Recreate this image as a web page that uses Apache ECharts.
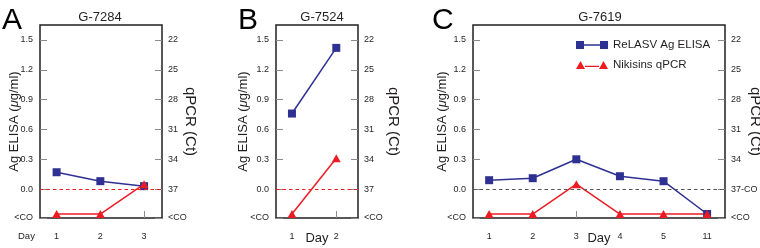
<!DOCTYPE html>
<html>
<head>
<meta charset="utf-8">
<script src="https://cdn.jsdelivr.net/npm/echarts@6/dist/echarts.min.js"></script>
<style>
  html, body { margin: 0; padding: 0; background: #fff; }
  #chart-container { width: 760px; height: 248px; }
</style>
</head>
<body>
<div id="chart-container"></div>
<script>
var dom = document.getElementById("chart-container");
var myChart = echarts.init(dom, null, { renderer: "canvas" });

// data ("<CO" = below cut-off)
var panelLetters = ["A", "B", "C"];
var patientIds = ["G-7284", "G-7524", "G-7619"];
var seriesNames = ["ReLASV Ag ELISA", "Nikisins qPCR"];

var daysA = [1, 2, 3];
var elisaA = [0.17, 0.08, 0.03];
var ctA = ["<CO", "<CO", 36.5];

var daysB = [1, 2];
var elisaB = [0.76, 1.42];
var ctB = ["<CO", 33.9];

var daysC = [1, 2, 3, 4, 5, 11];
var elisaC = [0.09, 0.11, 0.3, 0.13, 0.08, "<CO"];
var ctC = ["<CO", "<CO", 36.5, "<CO", "<CO", "<CO"];

var elisaTicks = [-0.29, 0, 0.3, 0.6, 0.9, 1.2, 1.5];
var elisaTickLabels = ["<CO", "0.0", "0.3", "0.6", "0.9", "1.2", "1.5"];
var ctTicks = [39.9, 37, 34, 31, 28, 25, 22];
var ctTickLabels = ["<CO", "37", "34", "31", "28", "25", "22"];
var ctTickLabelsC = ["<CO", "37-CO", "34", "31", "28", "25", "22"];

var FONT = "'Liberation Sans', Arial, Helvetica, sans-serif";
var INK = "#231f20";
var BLUE = "#2e3192";
var RED = "#ed1c24";
var TICK = "#8a8a8a";
var ELISA_CO = -0.25; // where below-cutoff points sit
var CT_CO = 39.5;

function plotValue(v, co) {
  return v === "<CO" ? co : v;
}

function tickFormatter(values, labels) {
  return function (value) {
    for (var k = 0; k < values.length; k++) {
      if (Math.abs(values[k] - value) < 1e-6) return labels[k];
    }
    return "";
  };
}

var option = {
  animation: false,
  textStyle: { fontFamily: FONT, color: INK },
  title: [],
  grid: [],
  xAxis: [],
  yAxis: [],
  series: [],
  legend: {
    orient: "vertical",
    left: 576,
    top: 39,
    padding: 0,
    itemWidth: 32,
    itemHeight: 8,
    itemGap: 8,
    textStyle: { fontFamily: FONT, fontSize: 11.5, color: INK },
    data: [
      { name: seriesNames[0], icon: "path://M0,0H8V8H0Z M8,3.3H24V4.7H8Z M24,0H32V8H24Z" },
      { name: seriesNames[1], icon: "path://M0,8L4.5,0L9,8Z M9,4.8H23V6.1H9Z M23,8L27.5,0L32,8Z" }
    ]
  }
};

function addPanel(i, days, elisa, ct, ctLabels, layout) {
  var xs = days.map(function (d, k) { return k; });

  option.title.push({
    text: panelLetters[i],
    left: layout.letterX,
    top: 6,
    padding: 0,
    textStyle: { fontFamily: FONT, fontSize: 30, fontWeight: "normal", color: "#000" }
  });
  option.title.push({
    text: patientIds[i],
    left: layout.titleX,
    top: 11,
    padding: 0,
    textAlign: "center",
    textStyle: { fontFamily: FONT, fontSize: 13, fontWeight: "normal", color: INK }
  });

  option.grid.push({
    left: layout.left,
    right: layout.right,
    top: 25,
    bottom: 30,
    outerBoundsMode: "none",
    show: true,
    borderColor: INK,
    borderWidth: 1.5,
    backgroundColor: "transparent"
  });

  option.xAxis.push({
    type: "value",
    gridIndex: i,
    min: layout.xMin,
    max: layout.xMax,
    name: layout.dayName ? "Day" : "",
    nameLocation: "middle",
    nameGap: 14,
    nameMoveOverlap: false,
    nameTextStyle: { fontFamily: FONT, fontSize: 13, color: INK, verticalAlign: "top" },
    splitLine: { show: false },
    axisLine: { show: false, onZero: false },
    axisTick: {
      inside: true,
      length: 7,
      customValues: xs,
      lineStyle: { color: TICK, width: 1 }
    },
    axisLabel: {
      customValues: xs,
      margin: 14,
      fontSize: 9,
      fontFamily: FONT,
      color: INK,
      formatter: function (v) { return String(days[Math.round(v)]); }
    }
  });

  option.yAxis.push({
    type: "value",
    gridIndex: i,
    position: "left",
    min: -0.29,
    max: 1.65,
    name: "{n|Ag ELISA (}{i|\u03bc}{n|g/ml)}",
    nameLocation: "middle",
    nameRotate: 90,
    nameGap: layout.leftGap,
    nameMoveOverlap: false,
    nameTextStyle: {
      rich: {
        n: { fontFamily: FONT, fontSize: 13, color: INK },
        i: { fontFamily: FONT, fontSize: 13, color: INK, fontStyle: "italic" }
      }
    },
    splitLine: { show: false },
    axisLine: { show: false, onZero: false },
    axisTick: {
      inside: true,
      length: 7,
      customValues: elisaTicks,
      lineStyle: { color: TICK, width: 1 }
    },
    axisLabel: {
      customValues: elisaTicks,
      margin: 7,
      fontSize: 9,
      fontFamily: FONT,
      color: INK,
      formatter: tickFormatter(elisaTicks, elisaTickLabels)
    }
  });

  option.yAxis.push({
    type: "value",
    gridIndex: i,
    position: "right",
    inverse: true,
    min: 20.5,
    max: 39.9,
    name: "qPCR (Ct)",
    nameLocation: "middle",
    nameRotate: -90,
    nameGap: layout.rightGap,
    nameMoveOverlap: false,
    nameTextStyle: { fontFamily: FONT, fontSize: 15, color: INK },
    splitLine: { show: false },
    axisLine: { show: false, onZero: false },
    axisTick: {
      inside: true,
      length: 7,
      customValues: ctTicks,
      lineStyle: { color: TICK, width: 1 }
    },
    axisLabel: {
      customValues: ctTicks,
      margin: 6,
      fontSize: 9,
      fontFamily: FONT,
      color: INK,
      formatter: tickFormatter(ctTicks, ctLabels)
    }
  });

  option.series.push({
    name: seriesNames[0],
    type: "line",
    xAxisIndex: i,
    yAxisIndex: 2 * i,
    data: elisa.map(function (v, k) { return [xs[k], plotValue(v, ELISA_CO)]; }),
    symbol: "rect",
    symbolSize: 8,
    clip: false,
    itemStyle: { color: BLUE },
    lineStyle: { color: BLUE, width: 1.5 },
    markLine: {
      silent: true,
      symbol: ["none", "none"],
      label: { show: false },
      lineStyle: { color: layout.zeroColor, type: [3.5, 3], width: 1 },
      data: [{ yAxis: 0 }]
    }
  });

  option.series.push({
    name: seriesNames[1],
    type: "line",
    xAxisIndex: i,
    yAxisIndex: 2 * i + 1,
    data: ct.map(function (v, k) { return [xs[k], plotValue(v, CT_CO)]; }),
    symbol: "triangle",
    symbolSize: [9, 8],
    clip: false,
    itemStyle: { color: RED },
    lineStyle: { color: RED, width: 1.5 }
  });
}

addPanel(0, daysA, elisaA, ctA, ctTickLabels, {
  left: 40, right: 598, xMin: -0.38, xMax: 2.41,
  letterX: 2, titleX: 100, leftGap: 19, rightGap: 20.5, zeroColor: RED, dayName: false
});
addPanel(1, daysB, elisaB, ctB, ctTickLabels, {
  left: 276, right: 402, xMin: -0.36, xMax: 1.49,
  letterX: 238, titleX: 322, leftGap: 26.5, rightGap: 28, zeroColor: RED, dayName: true
});
addPanel(2, daysC, elisaC, ctC, ctTickLabelsC, {
  left: 473, right: 35, xMin: -0.37, xMax: 5.41,
  letterX: 432, titleX: 600, leftGap: 24.5, rightGap: 22.5, zeroColor: "#555555", dayName: true
});

// "Day" row label of panel A sits beside the tick labels
option.title.push({
  text: "Day",
  left: 18,
  top: 231,
  padding: 0,
  textStyle: { fontFamily: FONT, fontSize: 9.5, fontWeight: "normal", color: INK }
});

myChart.setOption(option);
window.addEventListener("resize", myChart.resize);
</script>
</body>
</html>
